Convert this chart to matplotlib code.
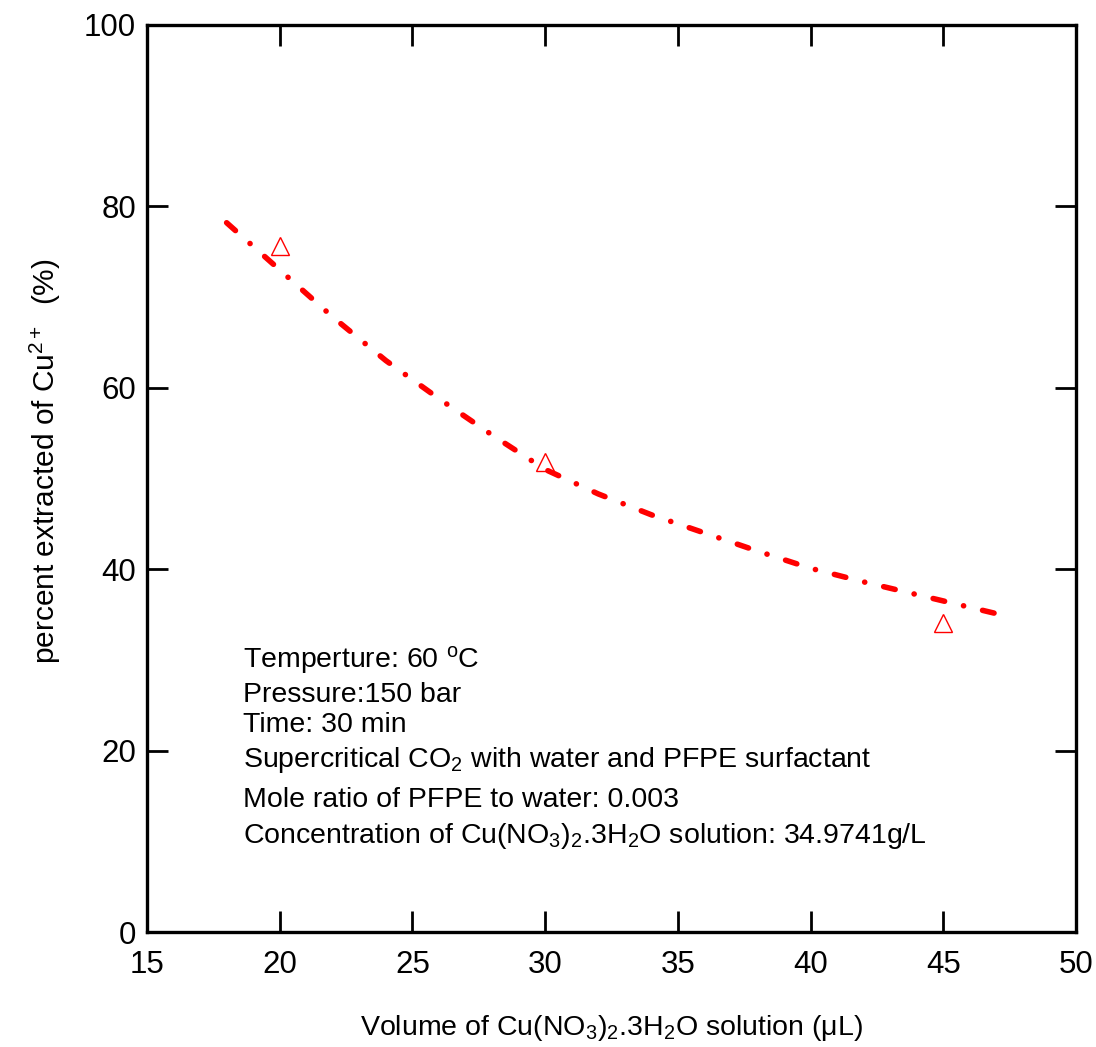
import matplotlib
matplotlib.use("Agg")
import matplotlib.pyplot as plt

# Data
vol_points = [20, 30, 45]
pct_points = [75.6, 51.8, 34.1]

fit_x = [18, 20, 22, 24, 26, 28, 30, 32, 34, 36, 38, 40, 42, 44, 46, 47]
fit_y = [78.2, 73.0, 67.8, 63.0, 58.8, 54.8, 51.0, 48.3, 46.0, 44.0, 42.0, 40.1, 38.6, 37.2, 35.8, 35.1]

xticks = [15, 20, 25, 30, 35, 40, 45, 50]
yticks = [0, 20, 40, 60, 80, 100]

notes = [
    r"Temperture: 60 $^{\mathrm{o}}$C",
    "Pressure:150 bar",
    "Time: 30 min",
    r"Supercritical CO$_2$ with water and PFPE surfactant",
    "Mole ratio of PFPE to water: 0.003",
    r"Concentration of Cu(NO$_3$)$_2$.3H$_2$O solution: 34.9741g/L",
]

plt.rcParams['font.family'] = ['Liberation Sans', 'DejaVu Sans']
plt.rcParams['mathtext.fontset'] = 'custom'
plt.rcParams['mathtext.rm'] = 'Liberation Sans'
plt.rcParams['mathtext.it'] = 'Liberation Sans:italic'
plt.rcParams['mathtext.bf'] = 'Liberation Sans:bold'
plt.rcParams['lines.scale_dashes'] = False

fig = plt.figure(figsize=(10.96, 10.47), dpi=100)
ax = fig.add_axes([147/1096, 1 - 932/1047, (1076-147)/1096, (932-25)/1047])

ax.plot(fit_x, fit_y, color='#ff0000', linewidth=4.0,
        linestyle=(0, (8.5, 14.0, 0.1, 14.0)), dash_capstyle='round',
        zorder=3)
ax.plot(vol_points, pct_points, linestyle='none', marker='^', markersize=12.5,
        markerfacecolor='none', markeredgecolor='#ff0000', markeredgewidth=1.0,
        zorder=2)

ax.set_xlim(15, 50)
ax.set_ylim(0, 100)
ax.set_xticks(xticks)
ax.set_yticks(yticks)
ax.tick_params(direction='in', length=15, width=2.0, labelsize=22.5,
               top=True, right=True)
ax.tick_params(axis='x', pad=13)
ax.tick_params(axis='y', pad=8)
for s in ax.spines.values():
    s.set_linewidth(2.4)

ax.set_xlabel("Volume of Cu(NO$_3$)$_2$.3H$_2$O solution (\u03bcL)", fontsize=20.5, labelpad=24)
ax.set_ylabel(r"percent extracted of Cu$^{2+}$  (%)", fontsize=21.5)
ax.yaxis.set_label_coords(-0.090, 0.519)

baselines = [667, 702, 732, 767, 807, 843]
for txt, yb in zip(notes, baselines):
    ax.text(243/1096, 1 - yb/1047, txt, transform=fig.transFigure,
            fontsize=20.5, va='baseline', ha='left')

fig.savefig("out.png", dpi=100)
